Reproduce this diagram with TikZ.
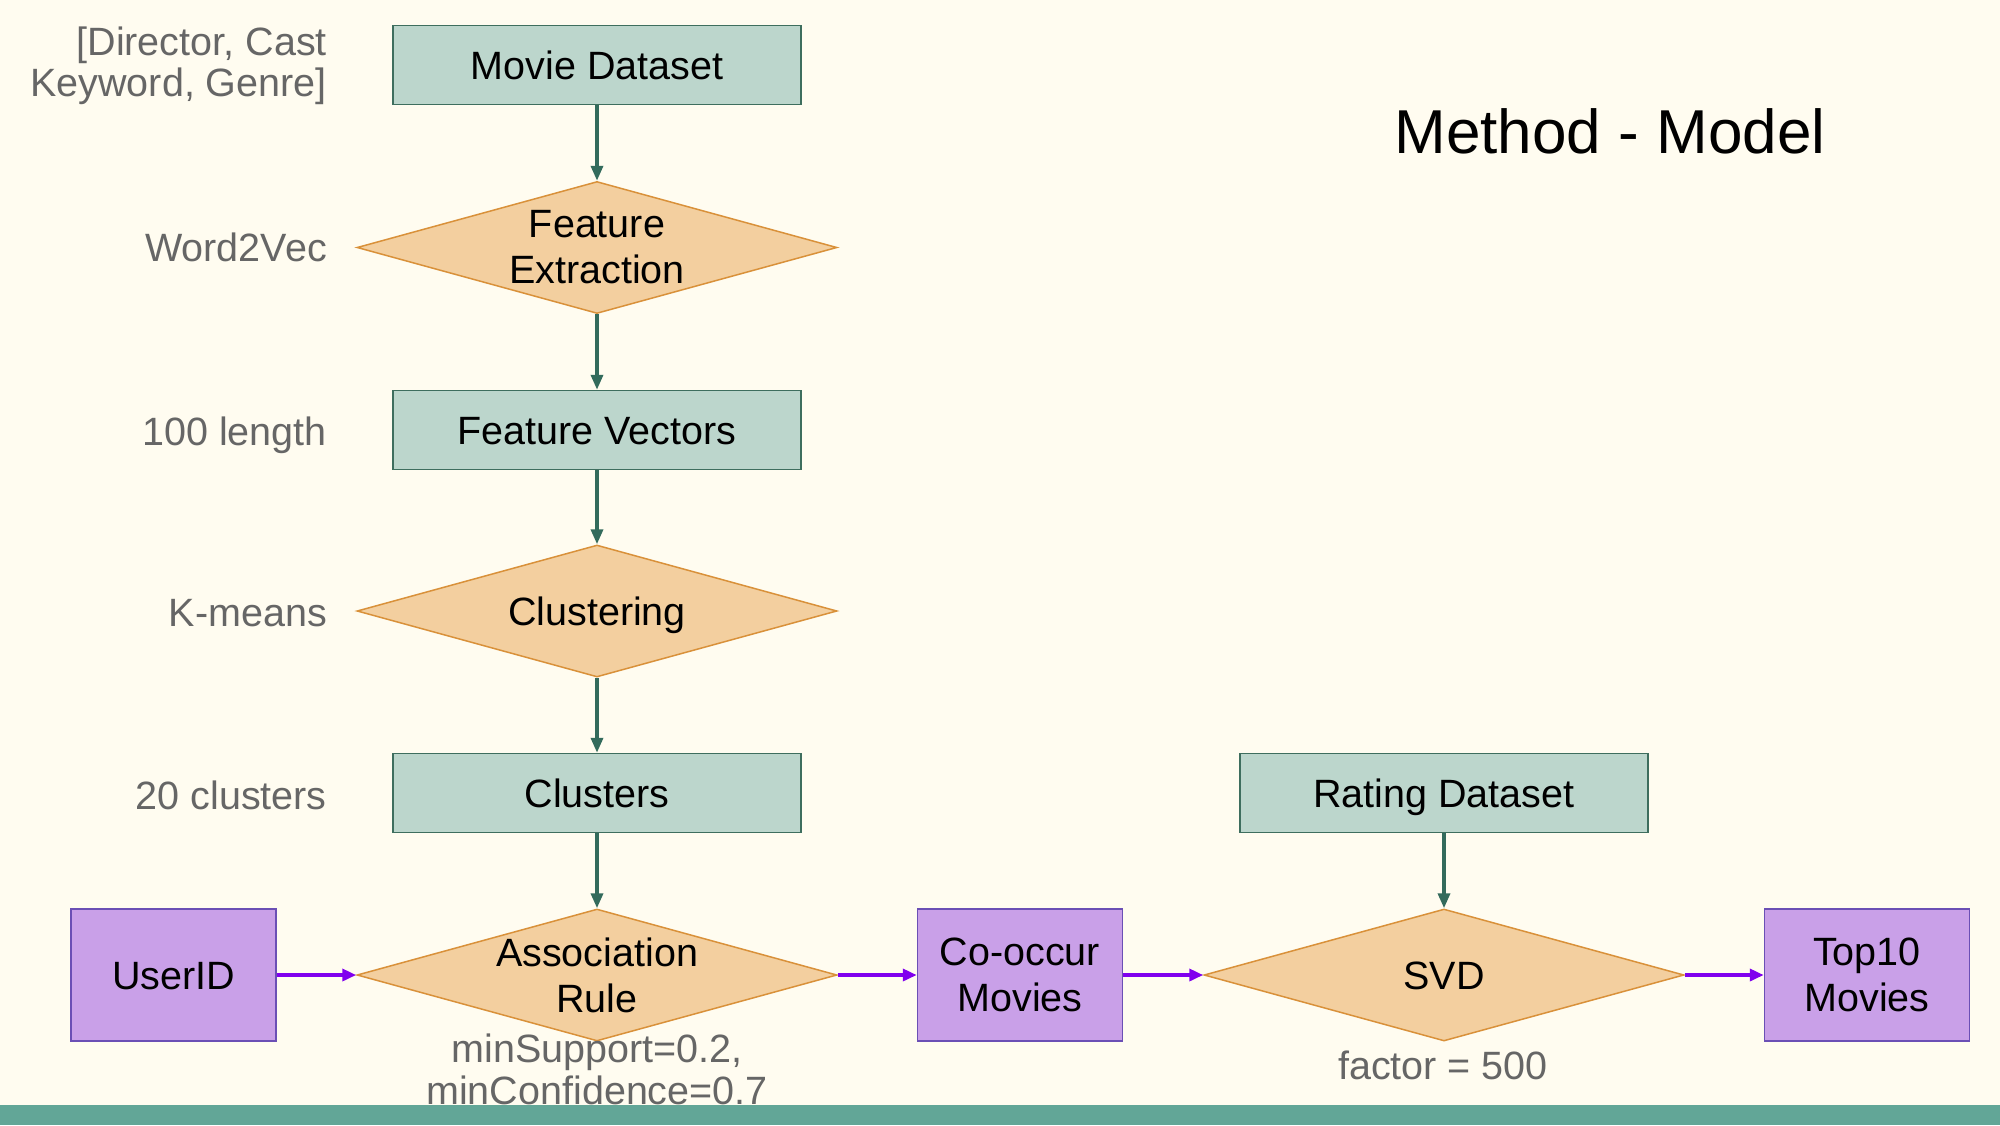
\documentclass[tikz,border=0pt]{standalone}
\usepackage{fontspec}
\setmainfont{Liberation Sans}
\usetikzlibrary{shapes.geometric,arrows.meta}
\definecolor{bg}{HTML}{FFFCF0}
\definecolor{barc}{HTML}{62A697}
\definecolor{gfill}{HTML}{BCD6CC}
\definecolor{gline}{HTML}{3E6E5E}
\definecolor{garrow}{HTML}{336B5C}
\definecolor{ofill}{HTML}{F3CF9F}
\definecolor{oline}{HTML}{D9913A}
\definecolor{pfill}{HTML}{C9A0E8}
\definecolor{pline}{HTML}{6B4FB5}
\definecolor{parrow}{HTML}{8000EE}
\definecolor{notec}{HTML}{666666}
\begin{document}
\begin{tikzpicture}[x=1pt,y=-1pt,
 txt/.style={font=\fontsize{39.5}{46}\selectfont, align=center, text=black},
 oneline/.style={text height=36pt, text depth=8pt},
 gbox/.style={txt, oneline, draw=gline, fill=gfill, line width=1.5pt, minimum width=408pt, minimum height=79pt, inner sep=0pt},
 dia/.style={txt, diamond, draw=oline, fill=ofill, line width=1.5pt, minimum width=480pt, minimum height=132pt, inner sep=0pt, aspect=3.6},
 pbox/.style={txt, draw=pline, fill=pfill, line width=1.5pt, minimum width=205pt, minimum height=132pt, inner sep=0pt},
 notetxt/.style={font=\fontsize{39.5}{41}\selectfont, text=notec, align=right, inner sep=0pt},
 subtxt/.style={font=\fontsize{39.5}{42}\selectfont, text=notec, align=center, inner sep=0pt},
 garr/.style={draw=garrow, line width=3.5pt, -{Triangle[length=15pt,width=12pt]}},
 parr/.style={draw=parrow, line width=4pt, -{Triangle[length=14pt,width=12pt]}}]
\useasboundingbox (0,0) rectangle (2000,1125);
\fill[bg] (0,0) rectangle (2000,1125);

\node[font=\fontsize{62}{70}\selectfont, inner sep=0pt] (title) at (1610,131) {Method - Model};

\node[gbox] (md) at (597,65) {Movie Dataset};
\node[dia] (fe) at (597,247.5) {Feature\\Extraction};
\node[gbox] (fv) at (597,430) {Feature Vectors};
\node[dia, oneline] (cl) at (597,611) {Clustering};
\node[gbox] (cs) at (597,793) {Clusters};
\node[dia] (ar) at (597,975) {Association\\Rule};
\node[gbox] (rd) at (1444,793) {Rating Dataset};
\node[dia, oneline] (svd) at (1444,975) {SVD};
\node[pbox, oneline] (uid) at (173.5,975) {UserID};
\node[pbox] (co) at (1020,975) {Co-occur\\Movies};
\node[pbox] (top) at (1867,975) {Top10\\Movies};

\node[notetxt, anchor=east] (n1) at (327,66) {[Director, Cast\\Keyword, Genre]};
\node[notetxt, oneline, anchor=east] (n2) at (327,247.5) {Word2Vec};
\node[notetxt, oneline, anchor=east] (n3) at (327,431) {100 length};
\node[notetxt, oneline, anchor=east] (n4) at (327,612) {K-means};
\node[notetxt, oneline, anchor=east] (n5) at (327,795) {20 clusters};
\node[subtxt] (n6) at (597,1069) {minSupport=0.2,\\minConfidence=0.7};
\node[subtxt, oneline] (n7) at (1443,1065) {factor = 500};

\draw[garr] (md.south) -- (fe.north);
\draw[garr] (fe.south) -- (fv.north);
\draw[garr] (fv.south) -- (cl.north);
\draw[garr] (cl.south) -- (cs.north);
\draw[garr] (cs.south) -- (ar.north);
\draw[garr] (rd.south) -- (svd.north);
\draw[parr] (uid.east) -- (ar.west);
\draw[parr] (ar.east) -- (co.west);
\draw[parr] (co.east) -- (svd.west);
\draw[parr] (svd.east) -- (top.west);

\fill[barc] (0,1105) rectangle (2000,1125);
\end{tikzpicture}
\end{document}
